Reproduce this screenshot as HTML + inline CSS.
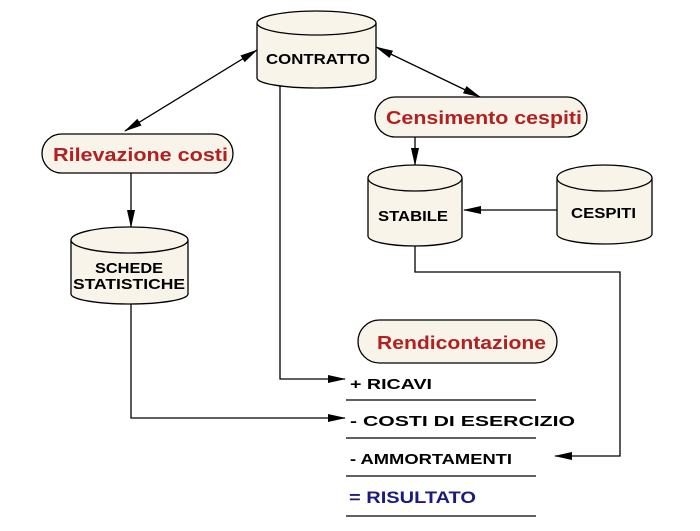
<!DOCTYPE html>
<html><head><meta charset="utf-8"><style>
html,body{margin:0;padding:0;background:#fff;}
svg{display:block;}
text{font-family:"Liberation Sans",Arial,sans-serif;font-weight:bold;}
</style></head><body>
<svg width="700" height="531" viewBox="0 0 700 531" xmlns="http://www.w3.org/2000/svg">
<defs>
<marker id="a" markerWidth="18" markerHeight="10" refX="17" refY="5" orient="auto" markerUnits="userSpaceOnUse">
<path d="M0,1 L18,5 L0,9 Z" fill="#000"/></marker>
<marker id="s" markerWidth="18" markerHeight="10" refX="1" refY="5" orient="auto" markerUnits="userSpaceOnUse">
<path d="M18,1 L0,5 L18,9 Z" fill="#000"/></marker>
</defs>
<g stroke="#000" stroke-width="1.3" fill="none">
<line x1="125" y1="131" x2="257" y2="50" marker-start="url(#s)" marker-end="url(#a)"/>
<line x1="376" y1="47" x2="480" y2="97" marker-start="url(#s)" marker-end="url(#a)"/>
<line x1="131" y1="173" x2="131" y2="227" marker-end="url(#a)"/>
<line x1="415" y1="137" x2="415" y2="165" marker-end="url(#a)"/>
<line x1="557" y1="210" x2="464" y2="210" marker-end="url(#a)"/>
<polyline points="280,86 280,379 345,379" marker-end="url(#a)"/>
<polyline points="131,303 131,418 345,418" marker-end="url(#a)"/>
<polyline points="415,245 415,272 620,272 620,456 555,456" marker-end="url(#a)"/>
<line x1="346" y1="400" x2="536" y2="400"/>
<line x1="346" y1="438" x2="536" y2="438"/>
<line x1="346" y1="476" x2="536" y2="476"/>
<line x1="346" y1="516" x2="536" y2="516"/>
</g>
<g stroke="#000" stroke-width="1.3" fill="#f8f4ea">
<path d="M257,23 L257,78 A59.5,10 0 0 0 376,78 L376,23"/>
<ellipse cx="316.5" cy="23" rx="59.5" ry="12"/>
<path d="M71,240 L71,294 A58.5,10 0 0 0 188,294 L188,240"/>
<ellipse cx="129.5" cy="240" rx="58.5" ry="13"/>
<path d="M368,178 L368,236 A47,10 0 0 0 462,236 L462,178"/>
<ellipse cx="415" cy="178" rx="47" ry="13"/>
<path d="M557,178 L557,234 A47.5,10 0 0 0 652,234 L652,178"/>
<ellipse cx="604.5" cy="178" rx="47.5" ry="13"/>
<rect x="42" y="134" width="191" height="39" rx="19.5"/>
<rect x="375" y="97" width="212" height="40" rx="20"/>
<rect x="358" y="320" width="199" height="43" rx="21.5"/>
</g>
<g font-size="15" fill="#000">
<text x="266" y="64" textLength="104" lengthAdjust="spacingAndGlyphs">CONTRATTO</text>
<text x="95" y="273" textLength="68" lengthAdjust="spacingAndGlyphs">SCHEDE</text>
<text x="73" y="289" textLength="112" lengthAdjust="spacingAndGlyphs">STATISTICHE</text>
<text x="378" y="221" textLength="70" lengthAdjust="spacingAndGlyphs">STABILE</text>
<text x="571" y="218" textLength="65" lengthAdjust="spacingAndGlyphs">CESPITI</text>
</g>
<g font-size="18" fill="#b22020">
<text x="53" y="161" textLength="175" lengthAdjust="spacingAndGlyphs">Rilevazione  costi</text>
<text x="386" y="124" textLength="196" lengthAdjust="spacingAndGlyphs">Censimento cespiti</text>
<text x="377" y="349" textLength="169" lengthAdjust="spacingAndGlyphs">Rendicontazione</text>
</g>
<g font-size="15" fill="#000">
<text x="350" y="389" textLength="82" lengthAdjust="spacingAndGlyphs">+  RICAVI</text>
<text x="350" y="426" textLength="225" lengthAdjust="spacingAndGlyphs">-  COSTI  DI ESERCIZIO</text>
<text x="350" y="464" textLength="162" lengthAdjust="spacingAndGlyphs">-  AMMORTAMENTI</text>
<text x="349" y="503" fill="#1a1a80" font-size="17" textLength="127" lengthAdjust="spacingAndGlyphs">= RISULTATO</text>
</g>
</svg>
</body></html>
